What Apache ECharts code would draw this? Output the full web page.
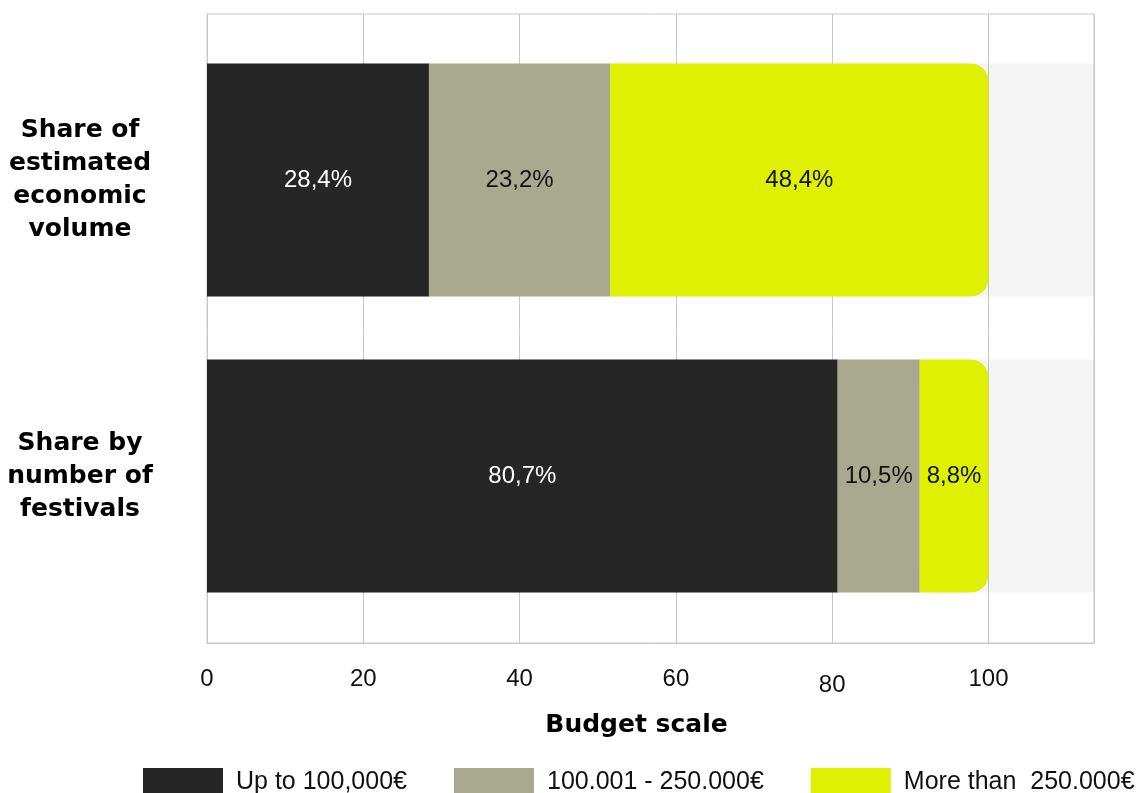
<!DOCTYPE html>
<html>
<head>
<meta charset="utf-8">
<title>Budget scale</title>
<script src="https://cdn.jsdelivr.net/npm/echarts@6/dist/echarts.min.js"></script>
<style>
  html, body { margin: 0; padding: 0; background: #fff; }
  #chart { width: 1143px; height: 793px; }
</style>
</head>
<body>
<div id="chart"></div>
<script>
// Rows of the chart (top to bottom)
const categories = [
  'Share of\nestimated\neconomic\nvolume',
  'Share by\nnumber of\nfestivals'
];

// Budget classes (legend order)
const seriesNames = ['Up to 100,000€', '100.001 - 250.000€', 'More than  250.000€'];

// Percentages per row
const upTo100k = [28.4, 80.7];
const from100kTo250k = [23.2, 10.5];
const over250k = [48.4, 8.8];

const seriesColors = ['#262626', '#a9a990', '#dff000'];
const labelColors = ['#ffffff', '#111111', '#111111'];

const axisMax = 113.5;
const fontFamily = '"Liberation Sans", Arial, Helvetica, sans-serif';
const boldFamily = '"DejaVu Sans", "Liberation Sans", Arial, sans-serif';

const fmtPct = v => v.toFixed(1).replace('.', ',') + '%';

const values = [upTo100k, from100kTo250k, over250k];

const series = values.map((data, i) => ({
  name: seriesNames[i],
  type: 'bar',
  stack: 'total',
  xAxisIndex: 1,
  yAxisIndex: 1,
  barWidth: 233,
  data: data,
  itemStyle: {
    color: seriesColors[i],
    borderRadius: i === values.length - 1 ? [0, 18, 18, 0] : 0
  },
  showBackground: i === 0,
  backgroundStyle: { color: 'rgba(0,0,0,0.04)' },
  label: {
    show: true,
    position: 'inside',
    color: labelColors[i],
    fontSize: 24,
    fontFamily: fontFamily,
    formatter: p => fmtPct(p.value)
  },
  emphasis: { disabled: true }
}));

const chart = echarts.init(document.getElementById('chart'), null, { renderer: 'canvas' });

chart.setOption({
  animation: false,
  backgroundColor: '#ffffff',
  textStyle: { fontFamily: fontFamily },
  grid: [
    // frame, vertical gridlines and value axis
    { left: 207, right: 49, top: 14, bottom: 150, show: true, borderColor: '#c8c8c8', borderWidth: 1 },
    // bars and row labels
    { left: 207, right: 49, top: 32, bottom: 169 }
  ],
  xAxis: [
    {
      gridIndex: 0,
      type: 'value',
      min: 0,
      max: axisMax,
      interval: 20,
      axisLine: { show: true, lineStyle: { color: '#c8c8c8' } },
      axisTick: { show: false },
      splitLine: { show: true, lineStyle: { color: '#c8c8c8', width: 1 } },
      axisLabel: {
        show: true,
        showMaxLabel: false,
        margin: 24,
        fontSize: 24,
        color: '#111',
        fontFamily: fontFamily,
        formatter: v => (v === 80 ? '{low|' + v + '}' : '' + v),
        rich: {
          low: { fontSize: 24, color: '#111', fontFamily: fontFamily, padding: [6, 0, 0, 0] }
        }
      },
      name: 'Budget scale',
      nameLocation: 'middle',
      nameGap: 70,
      nameTextStyle: {
        fontSize: 25,
        fontWeight: 'bold',
        color: '#000',
        fontFamily: boldFamily,
        padding: [0, 28, 0, 0]
      }
    },
    {
      gridIndex: 1,
      type: 'value',
      min: 0,
      max: axisMax,
      show: false
    }
  ],
  yAxis: [
    {
      gridIndex: 0,
      type: 'category',
      data: categories,
      inverse: true,
      axisLine: { show: true, lineStyle: { color: '#c8c8c8' } },
      axisTick: { show: false },
      axisLabel: { show: false }
    },
    {
      gridIndex: 1,
      type: 'category',
      data: categories,
      inverse: true,
      axisLine: { show: false },
      axisTick: { show: false },
      axisLabel: {
        margin: 127,
        align: 'center',
        fontSize: 25,
        fontWeight: 'bold',
        lineHeight: 33,
        color: '#000',
        fontFamily: boldFamily
      }
    }
  ],
  legend: {
    data: seriesNames,
    left: 143,
    top: 768,
    width: 1100,
    padding: 0,
    icon: 'rect',
    itemWidth: 80,
    itemHeight: 28,
    itemGap: 47,
    textStyle: {
      fontSize: 25,
      color: '#111',
      fontFamily: fontFamily,
      padding: [0, 0, 0, 8]
    },
    selectedMode: false
  },
  series: series
});
</script>
</body>
</html>
